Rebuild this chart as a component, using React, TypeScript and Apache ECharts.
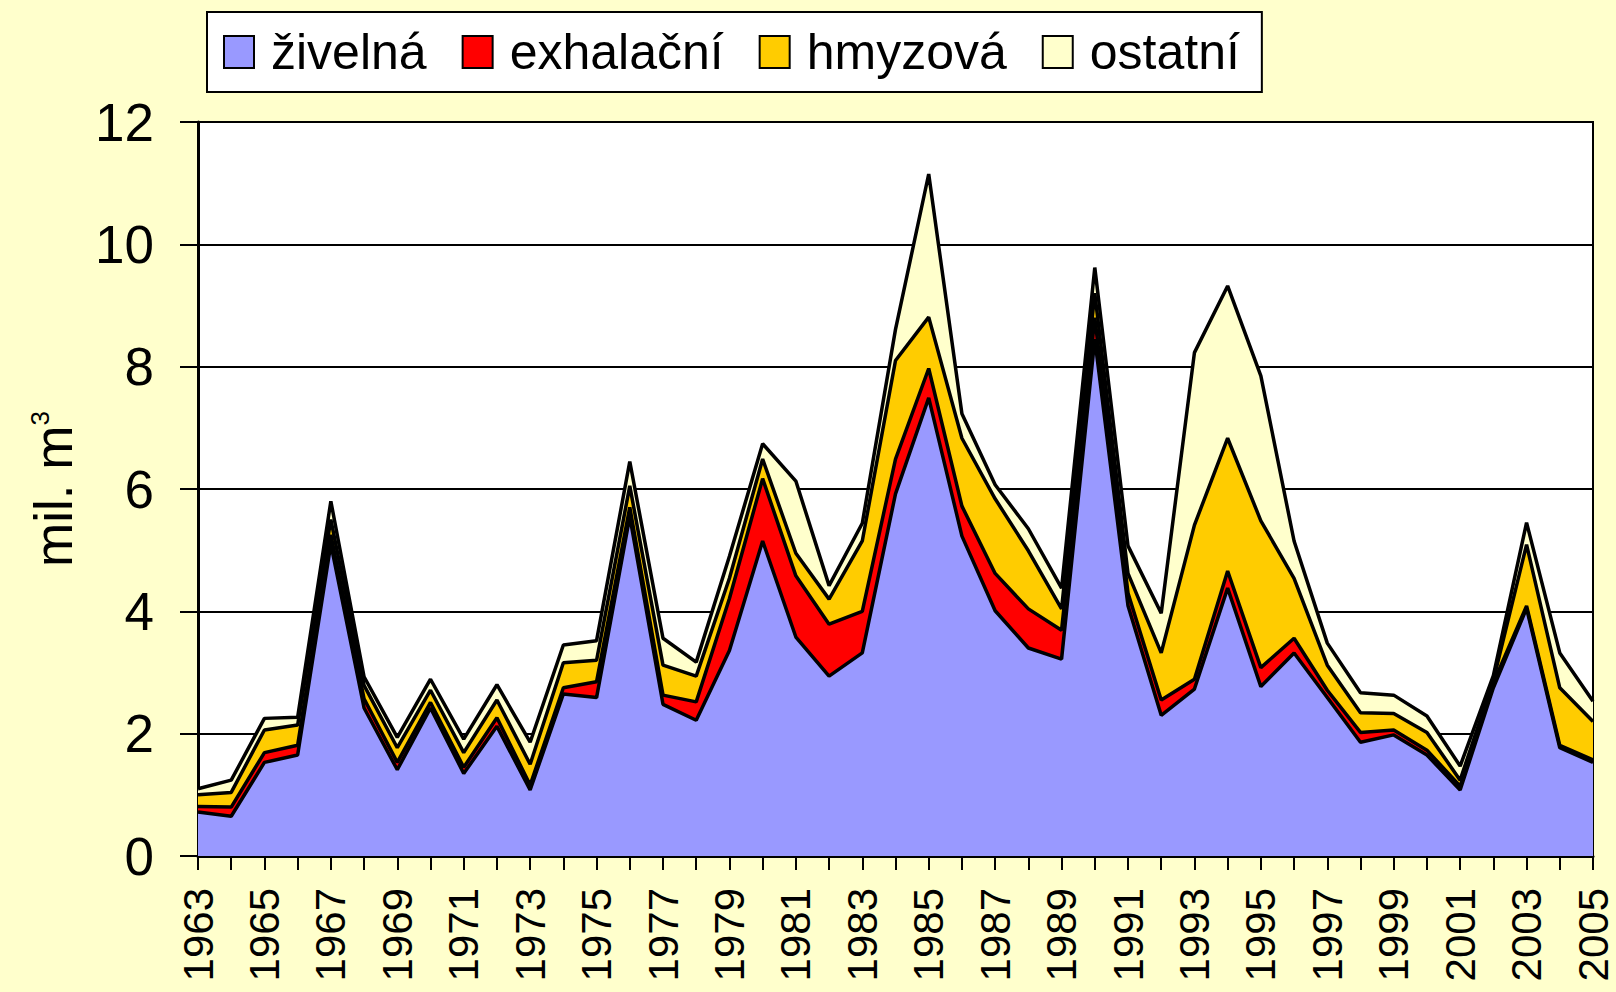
import React, { useEffect, useRef } from "react";
import * as echarts from "echarts";

const years = [
  "1963", "1964", "1965", "1966", "1967", "1968", "1969", "1970", "1971", "1972",
  "1973", "1974", "1975", "1976", "1977", "1978", "1979", "1980", "1981", "1982",
  "1983", "1984", "1985", "1986", "1987", "1988", "1989", "1990", "1991", "1992",
  "1993", "1994", "1995", "1996", "1997", "1998", "1999", "2000", "2001", "2002",
  "2003", "2004", "2005",
];

const seriesNames = ["živelná", "exhalační", "hmyzová", "ostatní"];
const seriesColors = ["#9999FF", "#FF0000", "#FFCC00", "#FFFFCC"];

const zivelna = [
  0.72, 0.65, 1.53, 1.65, 5.1, 2.42, 1.41, 2.42, 1.35, 2.12,
  1.08, 2.65, 2.59, 5.55, 2.48, 2.22, 3.36, 5.15, 3.58, 2.94,
  3.32, 5.92, 7.49, 5.23, 4.01, 3.4, 3.22, 8.45, 4.09, 2.3,
  2.73, 4.38, 2.77, 3.32, 2.59, 1.86, 1.98, 1.65, 1.08, 2.75,
  4.05, 1.77, 1.53,
];
const exhalacni = [
  0.09, 0.15, 0.16, 0.16, 0.15, 0.15, 0.12, 0.09, 0.1, 0.14,
  0.08, 0.1, 0.26, 0.15, 0.15, 0.3, 0.85, 1.02, 1.0, 0.85,
  0.68, 0.57, 0.48, 0.49, 0.61, 0.64, 0.47, 0.35, 0.21, 0.25,
  0.16, 0.28, 0.31, 0.24, 0.12, 0.16, 0.08, 0.08, 0.06, 0.08,
  0.04, 0.04, 0.04,
];
const hmyzova = [
  0.19, 0.24, 0.37, 0.33, 0.25, 0.22, 0.24, 0.2, 0.24, 0.29,
  0.34, 0.41, 0.35, 0.35, 0.49, 0.42, 0.33, 0.32, 0.37, 0.41,
  1.15, 1.61, 0.84, 1.11, 1.22, 0.95, 0.35, 0.4, 0.32, 0.77,
  2.52, 2.17, 2.4, 0.98, 0.41, 0.32, 0.27, 0.29, 0.1, 0.04,
  1.0, 0.94, 0.63,
];
const ostatni = [
  0.1, 0.2, 0.19, 0.13, 0.3, 0.14, 0.17, 0.18, 0.22, 0.25,
  0.36, 0.29, 0.32, 0.4, 0.44, 0.23, 0.36, 0.25, 1.18, 0.22,
  0.29, 0.51, 2.34, 0.4, 0.23, 0.36, 0.34, 0.42, 0.45, 0.65,
  2.82, 2.49, 2.37, 0.61, 0.36, 0.33, 0.3, 0.27, 0.23, 0.08,
  0.36, 0.57, 0.33,
];

const seriesData = [zivelna, exhalacni, hmyzova, ostatni];

export default function App() {
  const ref = useRef<HTMLDivElement>(null);

  useEffect(() => {
    document.body.style.margin = "0";
    document.body.style.overflow = "hidden";
    const chart = echarts.init(ref.current!, null, { renderer: "svg" });
    const font = "Arial, 'Liberation Sans', sans-serif";

    chart.setOption({
      animation: false,
      backgroundColor: "#FFFFCC",
      textStyle: { fontFamily: font, color: "#000" },
      legend: {
        left: 207,
        top: 12,
        orient: "horizontal",
        backgroundColor: "#FFFFFF",
        borderColor: "#000",
        borderWidth: 2,
        borderRadius: 0,
        padding: [14, 22, 14, 16],
        itemWidth: 30,
        itemHeight: 32,
        itemGap: 35,
        icon: "rect",
        itemStyle: { borderColor: "#000", borderWidth: 2 },
        textStyle: {
          fontSize: 50,
          lineHeight: 52,
          color: "#000",
          fontFamily: font,
          padding: [0, 0, 0, 12],
        },
        data: seriesNames,
      },
      grid: {
        left: 198,
        right: 23,
        top: 122,
        bottom: 136,
        show: true,
        backgroundColor: "#FFFFFF",
        borderColor: "#000",
        borderWidth: 2,
      },
      xAxis: {
        type: "category",
        data: years,
        boundaryGap: false,
        axisLine: { lineStyle: { color: "#000", width: 3 } },
        axisTick: { show: true, interval: 0, length: 14, lineStyle: { color: "#000", width: 2 } },
        axisLabel: {
          interval: 1,
          rotate: 90,
          fontSize: 42,
          lineHeight: 30,
          color: "#000",
          margin: 32,
          fontFamily: font,
        },
        splitLine: { show: false },
      },
      yAxis: {
        type: "value",
        min: 0,
        max: 12,
        interval: 2,
        axisLine: { show: true, lineStyle: { color: "#000", width: 3 } },
        axisTick: { show: true, length: 18, lineStyle: { color: "#000", width: 2 } },
        axisLabel: { fontSize: 53, color: "#000", margin: 44, fontFamily: font },
        splitLine: { show: true, lineStyle: { color: "#000", width: 2 } },
        name: "{a|mil. m}{s|3}",
        nameLocation: "middle",
        nameRotate: 90,
        nameGap: 118,
        nameTextStyle: {
          rich: {
            a: { fontSize: 53, color: "#000", fontFamily: font },
            s: { fontSize: 26, color: "#000", fontFamily: font, verticalAlign: "top" },
          },
        },
      },
      series: seriesNames.map((name, i) => ({
        name,
        type: "line",
        stack: "total",
        data: seriesData[i],
        symbol: "none",
        showSymbol: false,
        color: seriesColors[i],
        itemStyle: { color: seriesColors[i] },
        lineStyle: { color: "#000", width: 3.5 },
        areaStyle: { color: seriesColors[i], opacity: 1 },
      })),
    });

    return () => chart.dispose();
  }, []);

  return <div ref={ref} style={{ width: 1616, height: 992 }} />;
}
